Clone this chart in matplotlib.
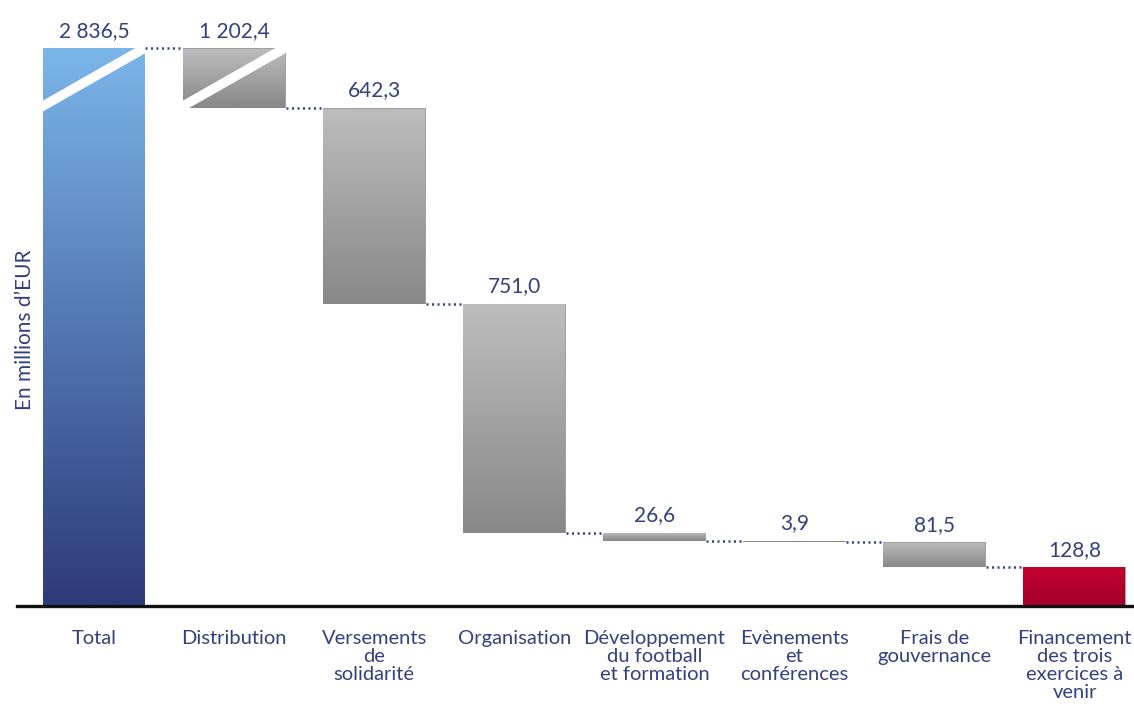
import numpy as np
import matplotlib
matplotlib.use("Agg")
import matplotlib.pyplot as plt
from matplotlib.colors import to_rgb

plt.rcParams['font.family'] = ['Lato', 'DejaVu Sans']

# data (millions EUR)
categories = ["Total", "Distribution", "Versements\nde\nsolidarité", "Organisation",
              "Développement\ndu football\net formation", "Evènements\net\nconférences",
              "Frais de\ngouvernance", "Financement\ndes trois\nexercices à\nvenir"]
total = 2836.5
expenses = [1202.4, 642.3, 751.0, 26.6, 3.9, 81.5]
remaining = 128.8
value_labels = ["2 836,5", "1 202,4", "642,3", "751,0", "26,6", "3,9", "81,5", "128,8"]

NAVY = '#34407f'

# waterfall geometry
tops = [total]
bottoms = [0.0]
level = total
for e in expenses:
    tops.append(level)
    bottoms.append(level - e)
    level -= e
tops.append(remaining)
bottoms.append(0.0)

# broken axis: compress everything above the end of the distribution bar
brk = total - expenses[0]
k = 0.163


def fwd(v):
    v = np.asarray(v, dtype=float)
    return np.where(v <= brk, v, brk + (v - brk) * k)


def inv(d):
    d = np.asarray(d, dtype=float)
    return np.where(d <= brk, d, brk + (d - brk) / k)


fig = plt.figure(figsize=(11.34, 7.13), dpi=100)
ax = fig.add_axes([17 / 1134, 107 / 713, 1 - 17 / 1134, 1 - 107 / 713])
ax.set_yscale('function', functions=(fwd, inv))

x = np.arange(len(categories))
w = 0.735
heights = [t - b for t, b in zip(tops, bottoms)]
bars = ax.bar(x, heights, bottom=bottoms, width=w, color='#a0a0a0', linewidth=0, zorder=2)

grad = [('#2d3a7a', '#7bb6e9')] + [('#888888', '#bdbdbd')] * 6 + [('#a6002a', '#c30030')]
for i, bar in enumerate(bars):
    b, t = bottoms[i], tops[i]
    vals = np.linspace(b, t, 400)
    f = (fwd(vals) - fwd(b)) / max(fwd(t) - fwd(b), 1e-9)
    c0, c1 = np.array(to_rgb(grad[i][0])), np.array(to_rgb(grad[i][1]))
    img = c0[None, :] + f[:, None] * (c1 - c0)[None, :]
    im = ax.imshow(img[:, None, :], extent=(i - w / 2, i + w / 2, b, t), origin='lower',
                   aspect='auto', interpolation='bilinear', zorder=3)
    im.set_clip_path(bar)

# white break stripes on the first two bars
for i in (0, 1):
    d_top = float(fwd(tops[i]))
    xs = [i - w / 2 - 0.05, i + w / 2 + 0.05]
    ys = inv([d_top - 191 - 0.05 * 191 / 0.7, d_top + 0.05 * 191 / 0.7])
    ln, = ax.plot(xs, ys, color='white', lw=6.8, solid_capstyle='butt', zorder=4)
    ln.set_clip_path(bars[i])

# dotted connectors
for i in range(len(categories) - 1):
    lvl = bottoms[i] if i > 0 else tops[i]
    ax.plot([i + w / 2, i + 1 - w / 2], [lvl, lvl], color=NAVY, lw=1.8,
            linestyle=(0, (0.8, 1.4)), zorder=4)

# value labels
for i, lab in enumerate(value_labels):
    ax.annotate(lab, (i, tops[i]), xytext=(0, 8), textcoords='offset points',
                ha='center', va='baseline', fontsize=15, color=NAVY)

ax.set_xlim((17 - 94) / 140.1, (1134 - 94) / 140.1)
ax.set_ylim(0, float(inv(606 / 0.305)))

ax.set_xticks(x)
ax.set_xticklabels(categories, fontsize=14.5, color=NAVY, linespacing=1.06)
ax.tick_params(axis='x', length=0, pad=17.5)
ax.set_yticks([])
ax.yaxis.set_minor_locator(plt.NullLocator())
for s in ('left', 'right', 'top'):
    ax.spines[s].set_visible(False)
ax.spines['bottom'].set_color('#111111')
ax.spines['bottom'].set_linewidth(2.4)
ax.spines['bottom'].set_zorder(5)

fig.text(25 / 1134, 1 - 330 / 713, "En millions d’EUR", rotation=90, ha='center', va='center',
         fontsize=15, color=NAVY)

fig.savefig('out.png', dpi=100)
